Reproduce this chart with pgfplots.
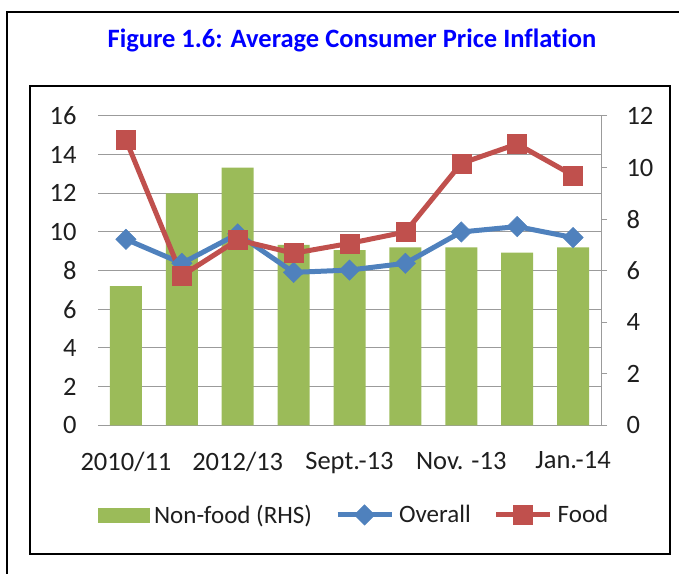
\documentclass[border=0pt]{standalone}
\usepackage{pgfplots}
\pgfplotsset{compat=1.18}
\usepackage{fontspec}
\setmainfont{Carlito}[Ligatures=NoCommon]
\definecolor{cgreen}{HTML}{9BBB59}
\definecolor{cblue}{HTML}{4F81BD}
\definecolor{cred}{HTML}{C0504D}
\definecolor{cgrid}{RGB}{155,155,155}
\definecolor{ctitle}{RGB}{0,0,255}
\definecolor{ctext}{RGB}{30,30,30}
\begin{document}
\begin{tikzpicture}[x=1bp,y=1bp]
\useasboundingbox (0,0) rectangle (679,574);
\begin{scope}
\clip (0,0) rectangle (679,574);
\draw[line width=2bp] (7,-10) -- (7,561.5) -- (690,561.5);
\end{scope}
\draw[line width=2.5bp] (30,20) rectangle (670,488);
\node[font=\bfseries\fontsize{26.5bp}{30bp}\selectfont, text=ctitle] at (352,534) {Figure 1.6: Average Consumer Price Inflation};
% grid + left labels + x labels
\begin{axis}[
  at={(98bp,148.7bp)}, anchor=south west, width=503bp, height=309.3bp, scale only axis,
  xmin=-0.5, xmax=8.5, ymin=0, ymax=16,
  axis line style={draw=none},
  ytick={0,2,...,16}, xtick={0,2,4,6,8},
  xticklabels={2010/11,2012/13,Sept.-13,Nov. -13,Jan.-14},
  major tick length=0pt,
  ymajorgrids, grid style={draw=cgrid, line width=1bp},
  font=\fontsize{26.5bp}{30bp}\selectfont,
  tick label style={text=ctext},
  /pgf/number format/assume math mode=true,
  yticklabel style={xshift=-18bp},
  xticklabel style={yshift=-23bp},
]
\end{axis}
% bars on RHS
\begin{axis}[
  at={(98bp,148.7bp)}, anchor=south west, width=503bp, height=309.3bp, scale only axis,
  xmin=-0.5, xmax=8.5, ymin=0, ymax=12,
  axis x line=none, axis y line*=right,
  ytick={0,2,...,12},
  y axis line style={draw=cgrid, line width=1bp},
  ytick style={draw=cgrid, line width=1bp},
  tick align=outside, major tick length=6bp,
  font=\fontsize{26.5bp}{30bp}\selectfont,
  tick label style={text=ctext},
  /pgf/number format/assume math mode=true,
  yticklabel style={xshift=16bp},
]
\addplot[ybar, bar width=32bp, fill=cgreen, draw=none] coordinates {
(0,5.4) (1,9.0) (2,10.0) (3,7.0) (4,6.8) (5,6.9) (6,6.9) (7,6.7) (8,6.9)};
\end{axis}
% lines on LHS
\begin{axis}[
  at={(98bp,148.7bp)}, anchor=south west, width=503bp, height=309.3bp, scale only axis,
  xmin=-0.5, xmax=8.5, ymin=0, ymax=16,
  hide axis, clip=false,
  legend columns=3,
  legend style={at={(0.509,-0.29)}, anchor=center, draw=none, fill=none,
    font=\fontsize{25bp}{29bp}\selectfont, text=ctext,
    /tikz/every even column/.append style={column sep=21bp},
    /tikz/every odd column/.append style={column sep=3bp}},
  legend image code/.code={\draw[mark repeat=2,mark phase=2,#1] plot coordinates {(0bp,0bp) (27bp,0bp) (54bp,0bp)};},
]
\addlegendimage{legend image code/.code={\fill[cgreen] (0bp,-7bp) rectangle (51bp,7bp);}}
\addlegendentry{Non-food (RHS)}
\addplot[cblue, line width=5bp, mark=square*, mark size=7.2bp, mark options={rotate=45, fill=cblue, draw=cblue, line width=0.5bp}] coordinates {
(0,9.62) (1,8.38) (2,9.9) (3,7.91) (4,8.03) (5,8.38) (6,10.0) (7,10.28) (8,9.71)};
\addlegendentry{Overall}
\addplot[cred, line width=5bp, mark=square*, mark size=9.5bp, mark options={fill=cred, draw=cred, line width=0.5bp}] coordinates {
(0,14.76) (1,7.74) (2,9.59) (3,8.9) (4,9.41) (5,10.0) (6,13.55) (7,14.55) (8,12.93)};
\addlegendentry{Food}
\end{axis}
\end{tikzpicture}
\end{document}
